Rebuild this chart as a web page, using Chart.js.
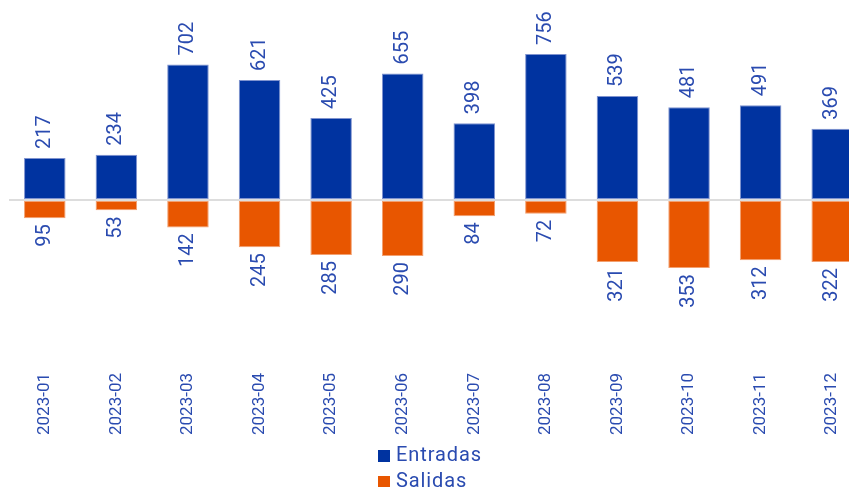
<!DOCTYPE html>
<html>
<head>
<meta charset="utf-8">
<script src="https://cdn.jsdelivr.net/npm/chart.js@4/dist/chart.umd.min.js"></script>
<style>
  html, body { margin: 0; padding: 0; background: #fff; overflow: hidden; }
  #wrap { position: relative; width: 868px; height: 487px; }
  #legend {
    position: absolute; left: 378px; top: 441px;
    font-family: Roboto, sans-serif; font-size: 20px; letter-spacing: 0.9px; color: #2a4bb0;
    line-height: 26px;
  }
  #legend .item { display: flex; align-items: center; }
  #legend .box { width: 12px; height: 12px; margin-right: 6px; margin-top: 3px; }
</style>
</head>
<body>
<div id="wrap">
  <canvas id="chart" width="868" height="487"></canvas>
  <div id="legend"></div>
</div>
<script>
// ─────────────────────────────────────────────────────────────
// DATA
// ─────────────────────────────────────────────────────────────
const months   = ['2023-01', '2023-02', '2023-03', '2023-04', '2023-05', '2023-06',
                  '2023-07', '2023-08', '2023-09', '2023-10', '2023-11', '2023-12'];
const entradas = [217, 234, 702, 621, 425, 655, 398, 756, 539, 481, 491, 369];
const salidas  = [95, 53, 142, 245, 285, 290, 84, 72, 321, 353, 312, 322];

const BLUE   = '#0033a0';
const ORANGE = '#e85600';
const TEXT   = '#2a4bb0';
const FONT   = 'Roboto, sans-serif';

// ─────────────────────────────────────────────────────────────
// PLUGIN: rotated value labels
// ─────────────────────────────────────────────────────────────
const valueLabels = {
  id: 'valueLabels',
  afterDatasetsDraw(chart) {
    const { ctx } = chart;
    ctx.save();
    ctx.font = `20px ${FONT}`;
    ctx.fillStyle = TEXT;
    ctx.textBaseline = 'middle';
    chart.data.datasets.forEach((ds, i) => {
      const meta = chart.getDatasetMeta(i);
      meta.data.forEach((bar, j) => {
        const txt = String(ds.raw[j]);
        ctx.save();
        if (ds.data[j] >= 0) {
          ctx.translate(bar.x, bar.y - 9);
          ctx.rotate(-Math.PI / 2);
          ctx.textAlign = 'left';
        } else {
          ctx.translate(bar.x, bar.y + 6);
          ctx.rotate(-Math.PI / 2);
          ctx.textAlign = 'right';
        }
        ctx.fillText(txt, 0, 0);
        ctx.restore();
      });
    });
    ctx.restore();
  }
};

// ─────────────────────────────────────────────────────────────
// CHART
// ─────────────────────────────────────────────────────────────
const chart = new Chart(document.getElementById('chart'), {
  type: 'bar',
  data: {
    labels: months,
    datasets: [
      { label: 'Entradas', data: entradas, raw: entradas,
        backgroundColor: BLUE, borderColor: '#7f93cf', borderWidth: 1, borderSkipped: false },
      { label: 'Salidas', data: salidas.map(v => -v), raw: salidas,
        backgroundColor: ORANGE, borderColor: '#f2a070', borderWidth: 1, borderSkipped: false },
    ]
  },
  options: {
    responsive: false,
    animation: false,
    layout: { padding: { left: 9, right: 0, top: 0, bottom: 52 } },
    plugins: { legend: { display: false }, tooltip: { enabled: false } },
    datasets: { bar: { barPercentage: 0.58, categoryPercentage: 1 } },
    scales: {
      x: {
        stacked: true,
        grid: { display: false, drawTicks: false },
        border: { display: false },
        afterFit: s => { s.height = 70; },
        ticks: {
          color: TEXT, font: { family: FONT, size: 17 },
          minRotation: 90, maxRotation: 90, padding: 8, autoSkip: false
        }
      },
      y: {
        stacked: true,
        min: -855, max: 1036,
        afterFit: s => { s.width = 0; },
        afterBuildTicks: s => { s.ticks = [{ value: 0 }]; },
        border: { display: false },
        grid: { color: '#dddddd', lineWidth: 2, drawTicks: false },
        ticks: { display: false }
      }
    }
  },
  plugins: [valueLabels]
});

// ─────────────────────────────────────────────────────────────
// LEGEND
// ─────────────────────────────────────────────────────────────
const legendEl = document.getElementById('legend');
chart.data.datasets.forEach(ds => {
  const item = document.createElement('div');
  item.className = 'item';
  item.innerHTML = `<span class="box" style="background:${ds.backgroundColor}"></span>${ds.label}`;
  legendEl.appendChild(item);
});
</script>
</body>
</html>
